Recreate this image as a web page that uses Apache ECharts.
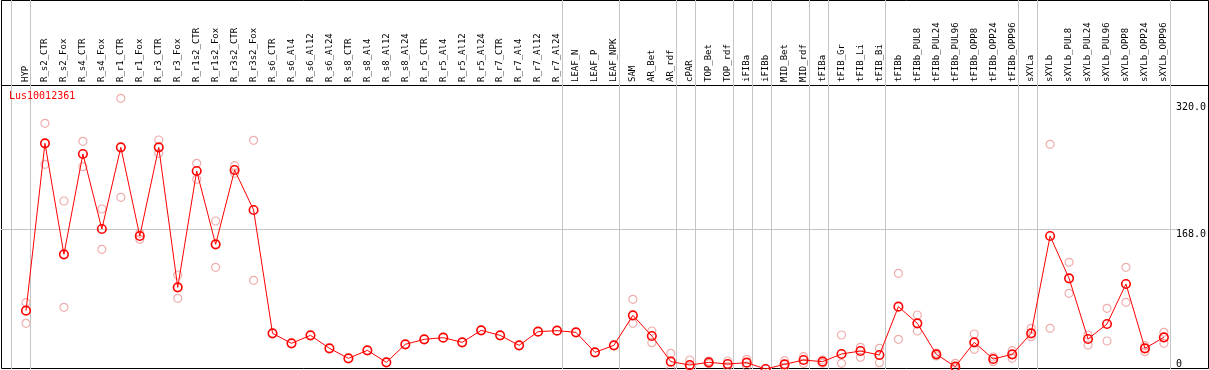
<!DOCTYPE html>
<html>
<head>
<meta charset="utf-8">
<script src="https://cdn.jsdelivr.net/npm/echarts@6/dist/echarts.min.js"></script>
<style>
  html, body { margin: 0; padding: 0; background: #fff; }
  #main { width: 1209px; height: 370px; }
</style>
</head>
<body>
<div id="main"></div>
<script>
var samples = ['HYP', 'R_s2_CTR', 'R_s2_Fox', 'R_s4_CTR', 'R_s4_Fox', 'R_r1_CTR', 'R_r1_Fox', 'R_r3_CTR', 'R_r3_Fox',
    'R_r1s2_CTR', 'R_r1s2_Fox', 'R_r3s2_CTR', 'R_r3s2_Fox', 'R_s6_CTR', 'R_s6_Al4', 'R_s6_Al12', 'R_s6_Al24',
    'R_s8_CTR', 'R_s8_Al4', 'R_s8_Al12', 'R_s8_Al24', 'R_r5_CTR', 'R_r5_Al4', 'R_r5_Al12', 'R_r5_Al24',
    'R_r7_CTR', 'R_r7_Al4', 'R_r7_Al12', 'R_r7_Al24', 'LEAF_N', 'LEAF_P', 'LEAF_NPK', 'SAM', 'AR_Bet', 'AR_rdf',
    'cPAR', 'TOP_Bet', 'TOP_rdf', 'iFIBa', 'iFIBb', 'MID_Bet', 'MID_rdf', 'tFIBa', 'tFIB_Gr', 'tFIB_Li', 'tFIB_Bi',
    'tFIBb', 'tFIBb_PUL8', 'tFIBb_PUL24', 'tFIBb_PUL96', 'tFIBb_OPP8', 'tFIBb_OPP24', 'tFIBb_OPP96',
    'sXYLa', 'sXYLb', 'sXYLb_PUL8', 'sXYLb_PUL24', 'sXYLb_PUL96', 'sXYLb_OPP8', 'sXYLb_OPP24', 'sXYLb_OPP96'];

// mean expression per sample
var meanValues = [70.0, 270.8, 137.6, 258, 168, 266, 159.6, 266, 98, 237.6, 149.6, 238.8, 190.8,
    42.8, 30.8, 40.4, 24.8, 12.8, 22.4, 8.0, 29.6, 35.6, 37.6, 32.0, 46.4, 40.4, 28.4, 44.8, 46.0, 44.0, 20.0, 28.4,
    64.4, 39.6, 8.8, 4.8, 8.0, 6.0, 7.6, 0, 5.6, 10.8, 8.8, 18, 21.6, 16.8,
    74.8, 54.8, 17.6, 2.8, 32, 12, 17.6, 42.8, 159.6, 108.8, 36, 54, 102, 24.8, 38];

// replicate values (upper / lower)
var repHigh = [79.6, 294.8, 201.6, 273.2, 192, 324.8, 162.8, 274.8, 112.8, 246.8, 177.6, 244, 274.4,
    null, null, null, null, null, null, null, null, null, null, null, null, null, null, null, null, null, null, null,
    83.6, 45.6, 18.8, 10.8, 9.6, 9.6, 11.6, null, 10, 14.8, 10.8, 40.8, 26, 24.8,
    114.8, 64.8, 19.2, 6.8, 42, 14.4, 22, 48.8, 269.6, 128, 40.8, 72.8, 122, 28, 44];
var repLow = [54.8, 245.6, 74.0, 242.8, 143.6, 206, 155.6, 258.8, 84.8, 227.6, 122, 234.8, 106.4,
    null, null, null, null, null, null, null, null, null, null, null, null, null, null, null, null, null, null, null,
    54.8, 31.6, 0, 2.8, 6.4, 2.8, 3.6, null, 2, 6.8, 6.8, 6.8, 14, 7.6,
    35.6, 45.6, 15.6, 1.2, 23.6, 8.8, 12.8, 38.8, 48.8, 90.8, 28.8, 33.6, 80, 20.8, 30.8];

var yTicks = [0, 168, 320];
// group separators fall just after these sample indexes
var groupEnds = [-1, 0, 28, 31, 34, 35, 37, 38, 39, 41, 42, 45, 52, 53, 60];

var mono = 'DejaVu Sans Mono';
var chart = echarts.init(document.getElementById('main'));

var sepLines = [];
for (var i = 0; i < groupEnds.length; i++) {
    sepLines.push({ xAxis: groupEnds[i] + 4 / 19 });
}

var option = {
    animation: false,
    title: {
        text: 'Lus10012361',
        left: 9, top: 91,
        padding: 0,
        textStyle: { color: '#ff0000', fontFamily: mono, fontSize: 10, fontWeight: 'normal' }
    },
    grid: [
        { left: 26, right: 43, top: 85, bottom: 1 },
        { left: 0, right: 0, top: 0, bottom: 1 }
    ],
    xAxis: [
        {
            type: 'category', gridIndex: 0, position: 'top', data: samples, boundaryGap: false,
            axisLine: { show: false }, axisTick: { show: false }, splitLine: { show: false },
            axisLabel: { interval: 0, rotate: 90, margin: 3, color: '#000', fontFamily: mono, fontSize: 9 }
        },
        {
            type: 'value', gridIndex: 1, min: -26 / 19, max: 60 + 43 / 19, show: false
        }
    ],
    yAxis: [
        {
            type: 'value', gridIndex: 0, position: 'right', min: 0, max: 340.8,
            axisLine: { show: false }, axisTick: { show: false }, splitLine: { show: false },
            axisLabel: {
                customValues: yTicks, margin: 12, color: '#000', fontFamily: mono, fontSize: 10,
                verticalAlign: 'top', verticalAlignMinLabel: 'bottom',
                formatter: function (v) { return v === 0 ? '0' : v.toFixed(1); }
            }
        },
        { type: 'value', gridIndex: 1, min: 0, max: 442.8, show: false }
    ],
    series: [
        {
            type: 'line', xAxisIndex: 1, yAxisIndex: 1, data: [], silent: true,
            markLine: {
                silent: true, symbol: 'none', label: { show: false },
                lineStyle: { color: '#c4c4c4', width: 1, type: 'solid' },
                data: sepLines.concat([[{ coord: [-1.316, 168] }, { coord: [60.58, 168] }]])
            }
        },
        {
            type: 'scatter', data: repHigh, symbol: 'circle', symbolSize: 8,
            itemStyle: { color: 'transparent', borderColor: '#eb9a9a', borderWidth: 1.2 }
        },
        {
            type: 'scatter', data: repLow, symbol: 'circle', symbolSize: 8,
            itemStyle: { color: 'transparent', borderColor: '#eb9a9a', borderWidth: 1.2 }
        },
        {
            type: 'line', data: meanValues, symbol: 'circle', symbolSize: 8.5, showAllSymbol: true,
            lineStyle: { color: '#ff0000', width: 1 },
            itemStyle: { color: 'transparent', borderColor: '#ff0000', borderWidth: 1.6 },
            z: 5
        }
    ],
    graphic: [
        { type: 'rect', silent: true, shape: { x: 1.5, y: 0.5, width: 1207, height: 368 },
          style: { fill: null, stroke: '#000', lineWidth: 1 } },
        { type: 'line', silent: true, shape: { x1: 1, y1: 85.5, x2: 1209, y2: 85.5 },
          style: { stroke: '#000', lineWidth: 1 } }
    ]
};
chart.setOption(option);
</script>
</body>
</html>
